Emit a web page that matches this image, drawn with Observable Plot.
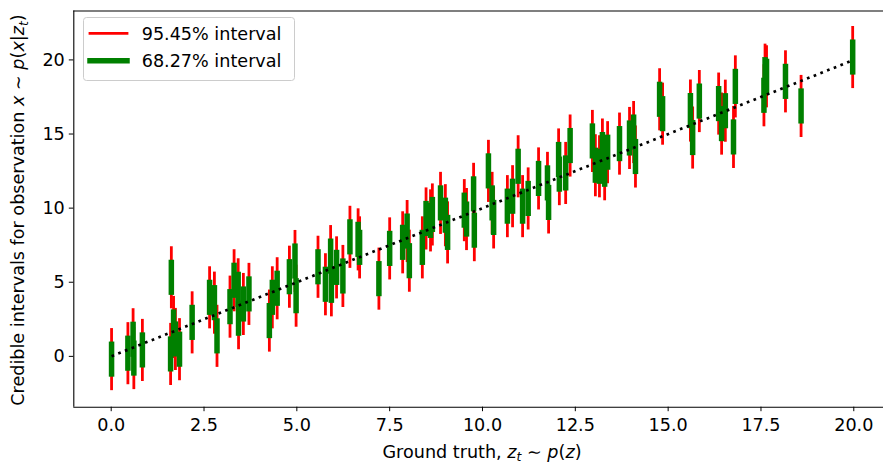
<!DOCTYPE html>
<html><head><meta charset="utf-8">
<script src="https://cdn.jsdelivr.net/npm/d3@7"></script>
<script src="https://cdn.jsdelivr.net/npm/@observablehq/plot@0.6"></script>
<style>
html,body{margin:0;padding:0;background:#fff;}
#chart{width:883px;height:466px;overflow:hidden;}
</style></head><body><div id="chart"></div>
<script>
// Ground truth z_t (x positions)
const truth = [0.01,0.45,0.59,0.61,0.84,1.62,1.60,1.68,1.73,1.84,2.18,2.65,2.78,2.85,3.20,3.31,3.42,3.43,3.56,3.71,4.26,4.34,4.47,4.80,4.95,4.98,5.57,5.77,5.91,5.93,6.07,6.24,6.43,6.65,6.69,7.21,7.50,7.85,7.97,8.03,8.38,8.48,8.60,8.65,8.87,9.00,9.06,9.51,9.57,9.76,9.78,10.16,10.26,10.30,10.67,10.81,10.96,11.08,11.23,11.51,11.75,11.78,12.05,12.07,12.24,12.36,12.96,13.04,13.15,13.23,13.29,13.37,13.69,13.96,14.07,14.12,14.77,14.85,15.60,15.66,15.84,16.36,16.44,16.54,16.76,16.81,17.58,17.61,17.65,18.16,18.58,19.97];
// Centre of each credible interval
const postMean = [-0.22,0.18,1.12,-0.15,0.40,5.30,0.13,1.95,1.14,0.45,2.26,3.95,3.59,1.35,3.32,5.10,4.49,2.54,3.50,4.18,2.38,3.95,4.56,5.34,6.40,4.06,6.01,4.83,6.73,4.76,5.97,5.39,8.03,7.86,7.32,5.21,7.25,7.66,8.42,6.42,7.32,9.27,9.14,9.54,10.32,9.49,8.33,9.83,9.23,10.93,8.48,12.48,10.32,9.34,10.10,10.77,12.79,10.10,10.62,11.97,11.67,10.35,13.25,12.26,12.34,14.19,14.50,12.86,12.79,13.92,12.59,13.74,14.32,14.70,15.10,13.45,17.31,16.34,16.55,14.73,17.19,17.02,15.67,16.54,14.77,18.18,17.58,18.97,18.86,18.52,16.86,20.16];
// Observation noise std (interval half-widths: 1 sigma and 2 sigma)
const sigma = 1.0;
const intervalLabels = ["95.45% interval", "68.27% interval"];
const intervalColors = ["#ff0000", "#008000"];
const xTicks = [0, 2.5, 5, 7.5, 10, 12.5, 15, 17.5, 20];
const yTicks = [0, 5, 10, 15, 20];
const xDomain = [-1.007, 20.80];
const yDomain = [-3.43, 23.3];

const FS = 17.6;
const data = truth.map((z, i) => ({z, m: postMean[i]}));

const svg = Plot.plot({
  width: 883, height: 466,
  marginLeft: 73.3, marginRight: 0, marginTop: 10.5, marginBottom: 59.3,
  style: {fontFamily: "'DejaVu Sans'", fontSize: FS + "px", color: "#000", background: "#fff"},
  x: {domain: xDomain},
  y: {domain: yDomain},
  marks: [
    Plot.ruleX(data, {x: "z", y1: d => d.m - 2 * sigma, y2: d => d.m + 2 * sigma, stroke: intervalColors[0], strokeWidth: 2.8, strokeLinecap: "square"}),
    Plot.ruleX(data, {x: "z", y1: d => d.m - sigma, y2: d => d.m + sigma, stroke: intervalColors[1], strokeWidth: 5.5, strokeLinecap: "square"}),
    Plot.line(d3.extent(truth), {x: d => d, y: d => d, stroke: "#000", strokeWidth: 2.7, strokeDasharray: "2.7,4.5", strokeLinecap: "butt"}),
    Plot.ruleY([yDomain[0]], {stroke: "#000", strokeWidth: 1.1}),
    Plot.ruleY([yDomain[1]], {stroke: "#000", strokeWidth: 1.1}),
    Plot.ruleX([xDomain[0]], {stroke: "#000", strokeWidth: 1.1}),
    Plot.axisX({ticks: xTicks, tickFormat: d => d.toFixed(1), tickSize: 4.5, tickPadding: 7, label: null, fontSize: FS}),
    Plot.axisY({ticks: yTicks, tickSize: 4.5, tickPadding: 4.5, label: null, fontSize: FS})
  ]
});
document.getElementById("chart").appendChild(svg);

const s = d3.select(svg);
function mathText(sel, parts) {
  let sub = false;
  parts.forEach(p => {
    const t = sel.append("tspan").text(p.t);
    if (p.i) t.attr("font-style", "italic");
    if (p.sub) { t.attr("font-size", (FS * 0.7) + "px").attr("dy", FS * 0.22); sub = true; }
    else if (sub) { t.attr("dy", -FS * 0.22); sub = false; }
  });
}
// x label
const xl = s.append("text").attr("x", 482).attr("y", 457.5).attr("text-anchor", "middle")
  .attr("font-family", "DejaVu Sans").attr("font-size", FS + "px").attr("fill", "#000");
mathText(xl, [{t: "Ground truth, "}, {t: "z", i: true}, {t: "t", i: true, sub: true}, {t: " ∼ "}, {t: "p", i: true}, {t: "("}, {t: "z", i: true}, {t: ")"}]);
// y label
const yl = s.append("text").attr("transform", "translate(24,210) rotate(-90)").attr("text-anchor", "middle")
  .attr("font-family", "DejaVu Sans").attr("font-size", FS + "px").attr("fill", "#000");
mathText(yl, [{t: "Credible intervals for observation "}, {t: "x", i: true}, {t: " ∼ "}, {t: "p", i: true}, {t: "("}, {t: "x", i: true}, {t: "|"}, {t: "z", i: true}, {t: "t", i: true, sub: true}, {t: ")"}]);

// legend
const lg = s.append("g");
lg.append("rect").attr("x", 83.5).attr("y", 17.5).attr("width", 211).attr("height", 63).attr("rx", 3)
  .attr("fill", "#fff").attr("fill-opacity", 0.8).attr("stroke", "#cccccc").attr("stroke-width", 1);
const rowsY = [33.3, 60.7];
const widths = [2.8, 5.5];
intervalLabels.forEach((lab, i) => {
  lg.append("line").attr("x1", 90).attr("x2", 127).attr("y1", rowsY[i]).attr("y2", rowsY[i])
    .attr("stroke", intervalColors[i]).attr("stroke-width", widths[i]).attr("stroke-linecap", "square");
  lg.append("text").attr("x", 141.7).attr("y", rowsY[i]).attr("dy", "0.36em").attr("text-anchor", "start")
    .attr("font-family", "DejaVu Sans").attr("font-size", FS + "px").attr("fill", "#000").text(lab);
});
</script></body></html>
